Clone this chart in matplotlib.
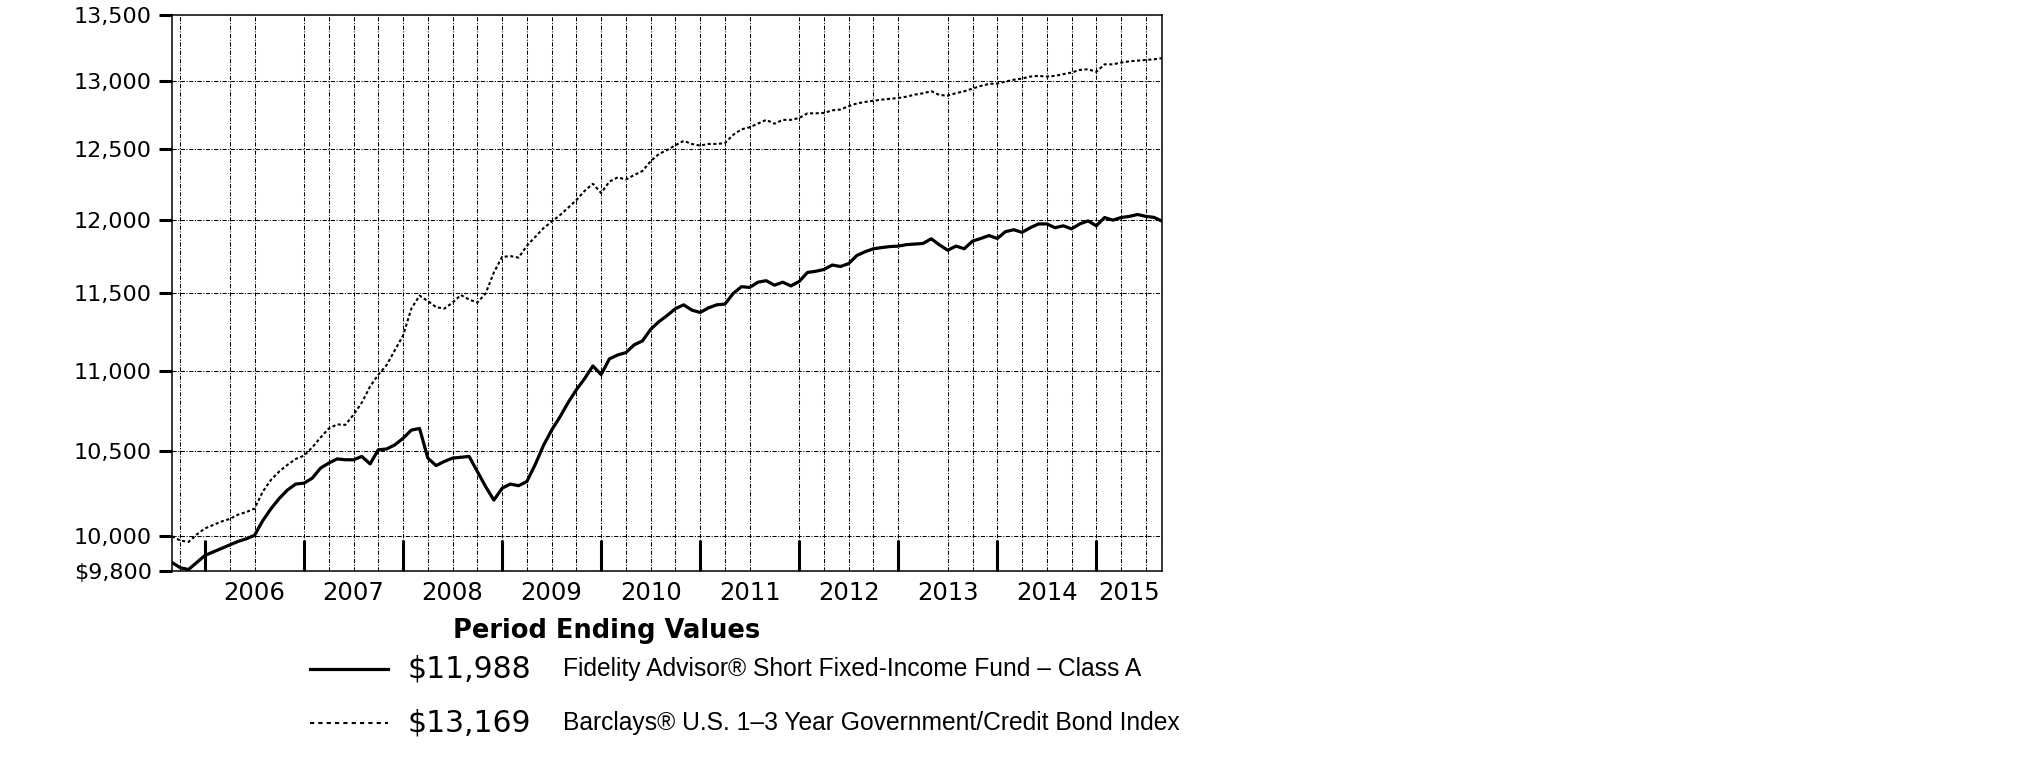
import numpy as np
import matplotlib
matplotlib.use('Agg')
import matplotlib.pyplot as plt
from matplotlib.ticker import FixedLocator, NullLocator

# Month-end values, Aug 2005 .. Aug 2015 (121 points)
fund = [
    9850, 9820, 9810, 9850, 9890, 9910, 9930, 9950, 9970, 9985,
    10005, 10090, 10160, 10220, 10270, 10305, 10310, 10340, 10400, 10430,
    10455, 10450, 10450, 10470, 10425, 10510, 10515, 10540, 10580, 10630,
    10640, 10460, 10415, 10440, 10460, 10465, 10470, 10380, 10290, 10210,
    10280, 10305, 10295, 10320, 10420, 10535, 10630, 10710, 10800, 10880,
    10950, 11030, 10975, 11075, 11100, 11115, 11165, 11190, 11265, 11315,
    11355, 11400, 11425, 11390, 11375, 11405, 11425, 11430, 11500, 11545,
    11540, 11575, 11585, 11555, 11575, 11550, 11580, 11640, 11648, 11660,
    11690, 11680, 11700, 11755, 11780, 11800, 11808, 11815, 11818, 11828,
    11832, 11836, 11868, 11826, 11790, 11818, 11800, 11852, 11870, 11890,
    11870, 11917, 11930, 11912, 11944, 11970, 11970, 11944, 11957, 11936,
    11970, 11991, 11957, 12014, 11996, 12014, 12022, 12035, 12022, 12015,
    11988,
]
index = [
    10000, 9975, 9967, 10010, 10045, 10065, 10085, 10100, 10125, 10140,
    10160, 10260, 10330, 10380, 10420, 10455, 10475, 10525, 10585, 10640,
    10665, 10662, 10725, 10800, 10900, 10975, 11035, 11130, 11225, 11400,
    11486, 11450, 11410, 11400, 11440, 11490, 11460, 11440, 11500, 11640,
    11745, 11750, 11740, 11820, 11880, 11940, 11985, 12030, 12082, 12135,
    12200, 12250, 12185, 12265, 12295, 12280, 12312, 12340, 12410, 12462,
    12490, 12525, 12556, 12534, 12522, 12534, 12534, 12540, 12600, 12640,
    12655, 12682, 12709, 12681, 12709, 12709, 12723, 12757, 12757, 12760,
    12779, 12785, 12810, 12830, 12841, 12850, 12858, 12864, 12870, 12880,
    12895, 12905, 12921, 12892, 12888, 12906, 12920, 12940, 12960, 12975,
    12978, 12992, 13006, 13015, 13030, 13035, 13030, 13035, 13048, 13060,
    13080, 13085, 13065, 13122, 13122, 13135, 13145, 13150, 13155, 13160,
    13169,
]
start_year = 2005 + 8 / 12
years = list(range(2006, 2016))
year_labels = [str(y) for y in years]
y_ticks = [9800, 10000, 10500, 11000, 11500, 12000, 12500, 13000, 13500]
y_labels = ['$9,800', '10,000', '10,500', '11,000', '11,500',
            '12,000', '12,500', '13,000', '13,500']
# quarter gridlines as they appear in the original (a few are absent)
grid_x = [2005.75, 2006.25, 2006.5, 2007.0, 2007.25, 2007.5, 2007.75,
          2008.0, 2008.25, 2008.5, 2008.75, 2009.0, 2009.25, 2009.5,
          2009.75, 2010.0, 2010.25, 2010.5, 2010.75, 2011.0, 2011.25,
          2011.5, 2012.0, 2012.25, 2012.5, 2012.75, 2013.0, 2013.5,
          2013.75, 2014.0, 2014.25, 2014.5, 2014.75, 2015.0, 2015.25,
          2015.5]

fund_name = 'Fidelity Advisor\u00ae Short Fixed-Income Fund \u2013 Class A'
index_name = 'Barclays\u00ae U.S. 1\u20133 Year Government/Credit Bond Index'

x = start_year + np.arange(len(fund)) / 12
x_end = x[-1]

fig = plt.figure(figsize=(20.26, 7.74), dpi=100)
ax = fig.add_axes([0.0849, 0.2619, 0.4888, 0.7187])

grid_style = dict(color='black', lw=0.75, ls=(0, (4, 1.5, 1, 1.5)), zorder=1)
for gx in grid_x:
    ax.axvline(gx, **grid_style)
for gy in y_ticks[1:-1]:
    ax.axhline(gy, **grid_style)

ax.plot(x, index, color='black', lw=1.5, ls=(0, (1.5, 1.2)), zorder=3)
ax.plot(x, fund, color='black', lw=2.3, zorder=4)

ax.set_yscale('log')
ax.set_ylim(9800, 13500)
ax.set_xlim(start_year, x_end)
ax.yaxis.set_major_locator(FixedLocator(y_ticks))
ax.yaxis.set_minor_locator(NullLocator())
ax.set_yticklabels(y_labels)
ax.tick_params(axis='y', which='major', direction='out', length=9.5,
               width=2.2, pad=5, labelsize=16)

ax.xaxis.set_major_locator(FixedLocator(years))
ax.xaxis.set_major_formatter(plt.NullFormatter())
mids = [y + 0.5 for y in years[:-1]] + [(years[-1] + x_end) / 2]
ax.xaxis.set_minor_locator(FixedLocator(mids))
ax.set_xticks(mids, year_labels, minor=True)
ax.tick_params(axis='x', which='major', direction='in', length=22, width=2.2)
ax.tick_params(axis='x', which='minor', length=0, pad=7, labelsize=17.5)

for s in ax.spines.values():
    s.set_linewidth(1.1)

# legend block below the chart
fig.text(0.2996, 0.1854, 'Period Ending Values', ha='center', va='center',
         fontsize=18.5, fontweight='bold', family='DejaVu Sans')
fig.add_artist(plt.Line2D([0.153, 0.1915], [0.1357, 0.1357], color='black',
                          lw=2.3))
fig.add_artist(plt.Line2D([0.153, 0.1915], [0.0653, 0.0653], color='black',
                          lw=1.5, ls=(0, (2, 2))))
fig.text(0.2009, 0.1357, '$11,988', ha='left', va='center', fontsize=21.5)
fig.text(0.2009, 0.0653, '$13,169', ha='left', va='center', fontsize=21.5)
fig.text(0.2779, 0.1357, fund_name, ha='left', va='center', fontsize=17.7,
         family='Liberation Sans')
fig.text(0.2779, 0.0653, index_name, ha='left', va='center', fontsize=17.7,
         family='Liberation Sans')

fig.savefig('out.png', dpi=100)
